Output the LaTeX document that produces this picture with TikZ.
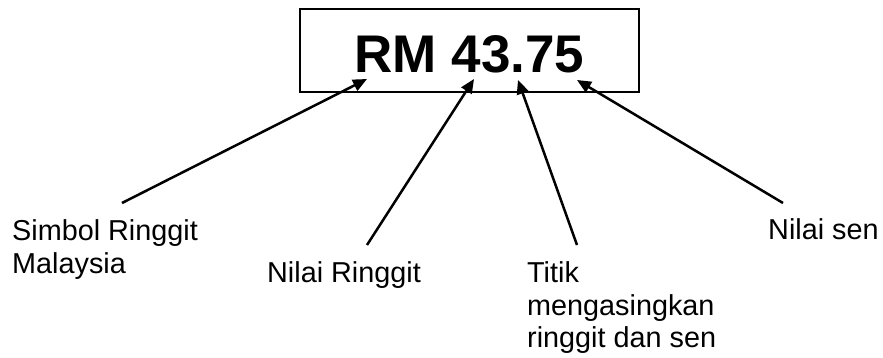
\documentclass[tikz,border=0pt]{standalone}
\usepackage{fontspec}
\setmainfont{Liberation Sans}
\usetikzlibrary{arrows.meta}
\begin{document}
\begin{tikzpicture}[x=1pt,y=-1pt,
  lbl/.style={anchor=north west,inner sep=0pt,align=left,
    font=\fontsize{28.8}{32.5}\selectfont},
  ptr/.style={line width=2.5pt,-{Triangle[length=14pt,width=12pt]}}]
\useasboundingbox (0,0) rectangle (883,357);
\node[draw,line width=2.5pt,minimum width=339pt,minimum height=83pt,inner sep=0pt,
  text height=43pt,text depth=0pt,font=\fontsize{53}{60}\selectfont\bfseries]
  (box) at (469.5,50.5) {RM 43.75};
\node[lbl] (simbol) at (12,219.5) {Simbol Ringgit\\Malaysia};
\node[lbl] (ringgit) at (267,261.5) {Nilai Ringgit};
\node[lbl] (titik) at (527,261.5) {Titik\\mengasingkan\\ringgit dan sen};
\node[lbl] (sen) at (768,218.5) {Nilai sen};
\coordinate (t1) at (122,203);
\coordinate (t2) at (367,245);
\coordinate (t3) at (577,245);
\coordinate (t4) at (783,203);
\coordinate (h1) at (367,79);
\coordinate (h2) at (474,79);
\coordinate (h3) at (518,80);
\coordinate (h4) at (577,80);
\draw[ptr] (t1) -- (h1);
\draw[ptr] (t2) -- (h2);
\draw[ptr] (t3) -- (h3);
\draw[ptr] (t4) -- (h4);
\end{tikzpicture}
\end{document}
